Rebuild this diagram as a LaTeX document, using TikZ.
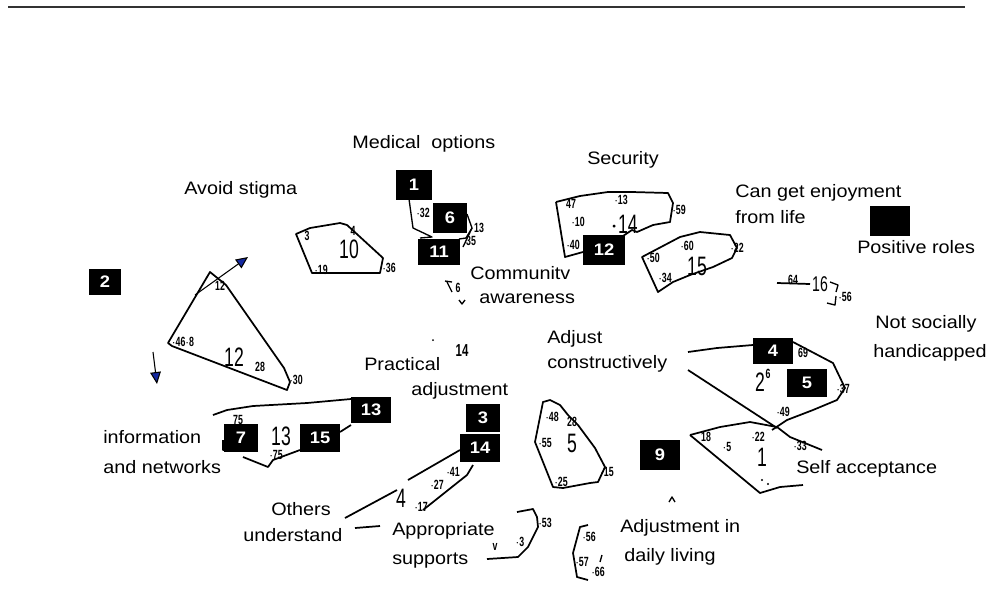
\documentclass[tikz,border=0pt]{standalone}
\usepackage{fontspec}
\setmainfont{Liberation Sans}[FakeStretch=1.1]
\newfontfamily\handfont{Liberation Sans}[FakeStretch=0.66]
\usetikzlibrary{arrows.meta}
\definecolor{tipblue}{RGB}{20,40,160}
\tikzset{
  lbl/.style={anchor=base west, inner sep=0pt, font=\fontsize{13.5}{16}\selectfont},
  numbox/.style={fill=black, text=white, inner sep=0pt, font=\fontsize{12.5}{14}\bfseries},
  sm/.style={inner sep=0pt, font=\handfont\bfseries\fontsize{10}{11}\selectfont},
  bignum/.style={inner sep=0pt, font=\handfont\fontsize{20}{22}\selectfont},
  poly/.style={line width=1.3pt, line join=round},
  thinpoly/.style={line width=1pt, line join=round},
  blu/.style={line width=0.8pt, -{Triangle[length=9pt,width=8pt,fill=tipblue]}}
}
\begin{document}
\begin{tikzpicture}[x=0.75pt,y=-0.75pt]
\useasboundingbox (0,0) rectangle (1002,594);
% top rule
\draw[line width=1.1pt, black!80] (8,7) -- (965,7);

% ---------- text labels ----------
\node[lbl] (t1) at (352,148) {Medical\ \ options};
\node[lbl] (t2) at (587,164) {Security};
\node[lbl] (t3) at (184,194) {Avoid stigma};
\node[lbl] (t4) at (735,197) {Can get enjoyment};
\node[lbl] (t5) at (735,223) {from life};
\node[lbl] (t6) at (857,253) {Positive roles};
\node[lbl] (t7) at (470,279) {Communitv};
\node[lbl] (t8) at (479,303) {awareness};
\node[lbl] (t9) at (875,328) {Not socially};
\node[lbl] (t10) at (873,357) {handicapped};
\node[lbl] (t11) at (547,343) {Adjust};
\node[lbl] (t12) at (547,368) {constructively};
\node[lbl] (t13) at (364,370) {Practical};
\node[lbl] (t14) at (411,395) {adjustment};
\node[lbl] (t15) at (103,443) {information};
\node[lbl] (t16) at (103,473) {and networks};
\node[lbl] (t17) at (796,473) {Self acceptance};
\node[lbl] (t18) at (271,515) {Others};
\node[lbl] (t19) at (243,541) {understand};
\node[lbl] (t20) at (392,535) {Appropriate};
\node[lbl] (t21) at (392,564) {supports};
\node[lbl] (t22) at (620,532) {Adjustment in};
\node[lbl] (t23) at (624,561) {daily living};

% ---------- black numbered boxes ----------
\node[numbox, minimum width=27pt, minimum height=22pt] (b1) at (414,185) {1};
\node[numbox, minimum width=25pt, minimum height=22pt] (b6) at (450,218) {6};
\node[numbox, minimum width=31pt, minimum height=20pt] (b11) at (439,252) {11};
\node[numbox, minimum width=31pt, minimum height=22pt] (b12) at (604,250) {12};
\node[numbox, minimum width=24pt, minimum height=20pt] (b2) at (105,282) {2};
\node[numbox, minimum width=30pt, minimum height=20pt] (b4) at (773,351) {4};
\node[numbox, minimum width=30pt, minimum height=21pt] (b5) at (807,383) {5};
\node[numbox, minimum width=30pt, minimum height=19pt] (b13) at (371,410) {13};
\node[numbox, minimum width=25pt, minimum height=21pt] (b7) at (241,438) {7};
\node[numbox, minimum width=30pt, minimum height=21pt] (b15) at (320,438) {15};
\node[numbox, minimum width=26pt, minimum height=21pt] (b3) at (483,418) {3};
\node[numbox, minimum width=30pt, minimum height=21pt] (b14) at (480,448) {14};
\node[numbox, minimum width=30pt, minimum height=22pt] (b9) at (660,455) {9};
\node[numbox, minimum width=30pt, minimum height=22pt] (b0) at (890,221) {};

% ---------- cluster 12 (left) ----------
\draw[poly] (210,272) -- (168,343) -- (172,346) -- (287,390) -- (290,382) -- (284,368) -- (226,285) -- cycle;
\node[sm] (n12a) at (220,286) {12};
\node[bignum] (n12) at (234,357) {12};
\node[sm] (n28) at (260,367) {28};
\node[sm] (n468) at (183,342) {$\cdot$46$\cdot$8};
\node[sm] (n30) at (296,380) {$\cdot$30};
\coordinate (a1s) at (195,295);
\coordinate (a1e) at (248,257);
\draw[blu] (a1s) -- (a1e);
\coordinate (a2s) at (153,352);
\coordinate (a2e) at (157,384);
\draw[blu] (a2s) -- (a2e);

% ---------- cluster 10 ----------
\draw[poly] (296,234) -- (310,228) -- (340,223) -- (347,225) -- (383,258) -- (380,273) -- (312,273) -- cycle;
\node[sm] (n3) at (307,236) {3};
\node[sm] (n4a) at (353,231) {4};
\node[bignum] (n10) at (349,249) {10};
\node[sm] (n19) at (321,270) {$\cdot$19};
\node[sm] (n36) at (389,268) {$\cdot$36};

% ---------- cluster 1/6/11 ----------
\draw[thinpoly] (409,199) -- (413,228) -- (432,237) -- (420,238);
\draw[thinpoly] (459,239) -- (466,238) -- (472,228) -- (467,214);
\draw[thinpoly] (472,228) -- (463,247);
\node[sm] (n32) at (423,213) {$\cdot$32};
\node[sm] (n13a) at (479,228) {13};
\node[sm] (n35) at (471,241) {35};

% small cluster near community awareness
\draw[thinpoly] (445,281) -- (452,282) (447,282) -- (452,292);
\node[sm] (n6s) at (458,288) {6};
\draw[thinpoly] (459,300) -- (462,304) -- (465,300);

% ---------- cluster 14 (security) ----------
\draw[poly] (556,202) -- (580,196) -- (608,192) -- (632,192) -- (668,193) -- (673,203) -- (670,222) -- (653,225) -- (637,232) -- (632,230) -- (623,236);
\draw[poly] (556,202) -- (565,257) -- (583,252);
\node[sm] (n47) at (571,204) {47};
\node[sm] (n13b) at (621,200) {$\cdot$13};
\node[sm] (n10) at (578,222) {$\cdot$10};
\node[bignum] (n14) at (624,224) {$\cdot$14};
\node[sm] (n59) at (679,210) {$\cdot$59};
\node[sm] (n40) at (573,245) {$\cdot$40};

% ---------- cluster 15 ----------
\draw[poly] (642,257) -- (680,237) -- (700,232) -- (730,235) -- (737,248) -- (732,258) -- (713,267) -- (690,275) -- (673,282) -- (658,292) -- cycle;
\node[sm] (n50) at (653,258) {$\cdot$50};
\node[sm] (n60) at (687,246) {$\cdot$60};
\node[sm] (n22) at (737,248) {$\cdot$22};
\node[bignum] (n15) at (697,266) {15};
\node[sm] (n34) at (665,278) {$\cdot$34};

% ---------- cluster 16 ----------
\draw[poly] (777,283) -- (810,284);
\node[sm] (n64) at (793,280) {64};
\node[bignum, font=\handfont\fontsize{16}{18}\selectfont] (n16) at (820,284) {16};
\draw[thinpoly] (830,282) -- (838,285) -- (836,292) (836,296) -- (835,305) -- (827,303);
\node[sm] (n56) at (845,297) {$\cdot$56};

% ---------- cluster 2 (4/5) ----------
\draw[poly] (688,352) -- (717,348) -- (753,345);
\draw[poly] (793,342) -- (833,363) -- (845,388) -- (837,400) -- (813,410) -- (787,420) -- (772,430);
\draw[poly] (688,370) -- (777,428);
\node[sm] (n69) at (803,353) {69};
\node[bignum] (n2) at (760,382) {2};
\node[sm] (n6b) at (768,374) {6};
\node[sm] (n37) at (843,389) {$\cdot$37};
\node[sm] (n49) at (783,412) {$\cdot$49};

% ---------- cluster 1 (self acceptance) ----------
\draw[poly] (690,435) -- (720,427) -- (750,422) -- (777,427) -- (790,437) -- (822,450);
\draw[poly] (690,435) -- (760,493) -- (780,487) -- (803,485);
\node[sm] (n18) at (706,437) {18};
\node[sm] (n5a) at (727,447) {$\cdot$5};
\node[sm] (n22b) at (758,437) {$\cdot$22};
\node[bignum] (n1) at (762,457) {1};
\node[sm] (n33) at (800,446) {$\cdot$33};
\fill (762,480) circle (1.2);
\fill (768,484) circle (1.2);

% ---------- cluster 13 (information) ----------
\draw[poly] (213,415) -- (227,410) -- (253,406) -- (307,403) -- (351,399);
\draw[poly] (351,425) -- (340,432);
\draw[poly] (300,450) -- (273,460) -- (268,467) -- (243,457);
\draw[thinpoly] (223,440) -- (223,450) -- (226,450);
\node[sm] (n75a) at (238,420) {75};
\node[bignum] (n13) at (281,436) {13};
\node[sm] (n75b) at (276,455) {$\cdot$75};

% ---------- cluster 4 (others understand) ----------
\draw[poly] (345,518) -- (397,490);
\draw[poly] (408,480) -- (460,450);
\draw[poly] (473,465) -- (467,475) -- (423,510);
\draw[poly] (355,528) -- (380,526);
\node[bignum] (n4) at (401,498) {4};
\node[sm] (n27) at (437,485) {$\cdot$27};
\node[sm] (n41) at (453,472) {$\cdot$41};
\node[sm] (n17) at (421,507) {$\cdot$17};

% ---------- cluster 3 (appropriate supports) ----------
\draw[poly] (517,512) -- (533,509) -- (537,517) -- (538,527) -- (528,547) -- (518,557) -- (487,559);
\node[sm] (n53) at (545,523) {$\cdot$53};
\node[sm] (n3b) at (520,542) {$\cdot$3};
\node[sm] (nv) at (495,547) {v};

% ---------- cluster 5 (adjust constructively) ----------
\draw[poly] (543,402) -- (550,400) -- (560,405) -- (568,415) -- (578,425) -- (595,448) -- (605,467) -- (598,482) -- (590,483) -- (563,488) -- (553,487) -- (535,442) -- cycle;
\node[sm] (n48) at (552,417) {$\cdot$48};
\node[sm] (n28b) at (572,422) {28};
\node[sm] (n55) at (545,443) {$\cdot$55};
\node[bignum] (n5) at (572,443) {5};
\node[sm] (n25) at (561,482) {$\cdot$25};
\node[sm] (n15b) at (607,472) {$\cdot$15};

% ---------- cluster 9 (daily living) ----------
\draw[poly] (588,525) -- (580,527) -- (573,553) -- (577,577) -- (588,580);
\node[sm] (n56b) at (589,537) {$\cdot$56};
\node[sm] (n57) at (582,562) {$\cdot$57};
\node[sm] (n66) at (598,572) {$\cdot$66};
\draw[thinpoly] (602,555) -- (600,562);

% misc marks
\fill (433,340) circle (1);
\node[sm, font=\handfont\bfseries\fontsize{13}{14}\selectfont] (n14s) at (462,351) {14};
\draw[thinpoly] (669,502) -- (672,497) -- (675,502);
\end{tikzpicture}
\end{document}
